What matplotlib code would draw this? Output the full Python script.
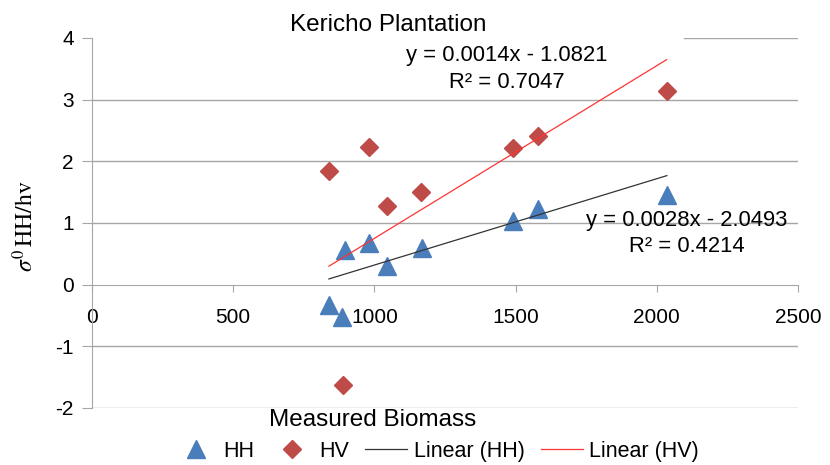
import numpy as np
from matplotlib import pyplot as plt

plt.rcParams['font.family'] = ['Liberation Sans', 'DejaVu Sans']
plt.rcParams['mathtext.fontset'] = 'stix'
plt.rcParams['axes.unicode_minus'] = False

# values
hh_x = [839, 885, 896, 981, 1044, 1169, 1491, 1580, 2036]
hh_y = [-0.33, -0.53, 0.57, 0.67, 0.31, 0.60, 1.04, 1.22, 1.45]
hv_x = [839, 890, 980, 1043, 1165, 1490, 1580, 2035]
hv_y = [1.84, -1.63, 2.24, 1.28, 1.51, 2.21, 2.41, 3.14]

# trendline coefficients as printed on the chart
hh_fit = [0.0014, -1.0821]
hv_fit = [0.0028, -2.0493]

x_ticks = [0, 500, 1000, 1500, 2000, 2500]
y_ticks = [-2, -1, 0, 1, 2, 3, 4]

grid_col = '#a6a6a6'
blue = '#4a7ebb'
red = '#be4b48'

fig = plt.figure(figsize=(8.3, 4.65), dpi=100)
ax = fig.add_axes([0.1108, 0.1226, 0.8506, 0.7957])

# gridlines (top one is partly covered by the text boxes in the original)
for yv in y_ticks:
    if yv == 0:
        continue
    if yv == 4:
        ax.axhline(yv, xmin=0.838, xmax=1, color=grid_col, lw=1, zorder=0)
    else:
        ax.axhline(yv, color=grid_col, lw=1, zorder=0)

ax.plot(hh_x, hh_y, linestyle='none', marker='^', ms=13, color=blue, label='HH', zorder=3)
ax.plot(hv_x, hv_y, linestyle='none', marker='D', ms=8.7, color=red, label='HV', zorder=3)

xs = np.array([min(hh_x), max(hh_x)])
ax.plot(xs, hh_fit[0] * xs + hh_fit[1], color='#333333', lw=0.9, label='Linear (HH)', zorder=4)
xs = np.array([min(hv_x), max(hv_x)])
ax.plot(xs, hv_fit[0] * xs + hv_fit[1], color='#ff3333', lw=0.9, label='Linear (HV)', zorder=4)

ax.set_xlim(0, 2500)
ax.set_ylim(-2, 4)
ax.set_xticks(x_ticks)
ax.set_yticks(y_ticks)

for s in ['top', 'right']:
    ax.spines[s].set_visible(False)
ax.spines['bottom'].set_position(('data', 0))
ax.spines['bottom'].set_color(grid_col)
ax.spines['left'].set_color(grid_col)
ax.tick_params(axis='x', direction='out', length=5, color=grid_col, pad=12, labelsize=15)
ax.tick_params(axis='y', direction='out', length=7, color=grid_col, pad=6, labelsize=15)

fig.text(388 / 830, 1 - 25 / 465, 'Kericho Plantation', ha='center', va='center', fontsize=17.5)
fig.text(507 / 830, 1 - 55 / 465, 'y = 0.0014x - 1.0821', ha='center', va='center', fontsize=15.8)
fig.text(507 / 830, 1 - 83 / 465, 'R² = 0.7047', ha='center', va='center', fontsize=15.8)
fig.text(687 / 830, 1 - 220 / 465, 'y = 0.0028x - 2.0493', ha='center', va='center', fontsize=15.8)
fig.text(687 / 830, 1 - 247 / 465, 'R² = 0.4214', ha='center', va='center', fontsize=15.8)

fig.text(373 / 830, 1 - 420 / 465, 'Measured Biomass', ha='center', va='center', fontsize=17.5)
fig.text(25 / 830, 1 - 226 / 465, r'$\sigma^0\,\mathrm{HH/hv}$', ha='center', va='center',
         rotation=90, fontsize=17)

fig.legend(loc='center', bbox_to_anchor=(437 / 830, 1 - 451 / 465), ncol=4, frameon=False,
           fontsize=15.5, handlelength=1.95, columnspacing=0.75, handletextpad=0.3)

plt.savefig('out.png', dpi=100)
